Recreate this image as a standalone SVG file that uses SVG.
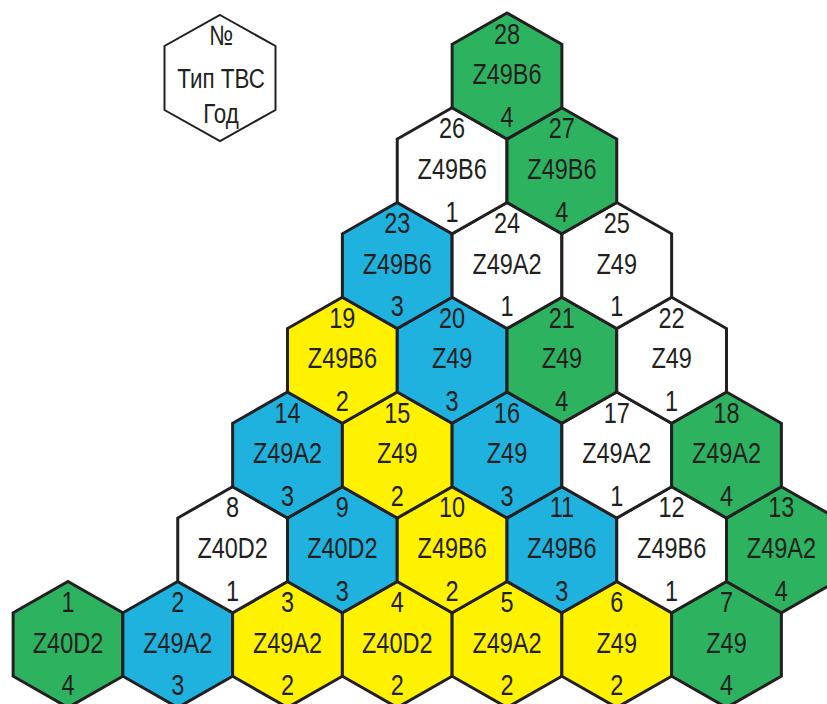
<svg xmlns="http://www.w3.org/2000/svg" xmlns:xlink="http://www.w3.org/1999/xlink" width="827" height="704" viewBox="0 0 827 704">
<style>
.hx{stroke:#231f20;stroke-width:3;stroke-linejoin:miter}
.w{fill:#ffffff}.g{fill:#2db360}.b{fill:#1fb2df}.y{fill:#fff200}
text{font-family:"Liberation Sans",Arial,sans-serif;font-size:29px;fill:#231f20;text-anchor:middle}
.lb{transform:scale(0.81,1)}
.lg{font-size:28px}
.lgs{transform:scale(0.8,1)}
</style>
<defs>
<polygon id="hx" points="0,-63 54.875,-31.75 54.875,31.75 0,63 -54.875,31.75 -54.875,-31.75"/>
</defs>
<rect width="827" height="704" fill="#ffffff"/>
<g id="legend">
<polygon points="220,15 275.5,46 275.5,110 220,141 164.5,110 164.5,46" fill="#ffffff" stroke="#231f20" stroke-width="2"/>
<g transform="translate(221,0)"><g class="lgs">
<text class="lg" y="45">№</text>
<text class="lg" y="88.3">Тип ТВС</text>
<text class="lg" y="123">Год</text>
</g></g>
</g>
<g id="hex1" transform="translate(68,644.5)"><use href="#hx" class="hx g"/><g class="lb"><text y="-32.5">1</text><text y="8">Z40D2</text><text y="51">4</text></g></g>
<g id="hex2" transform="translate(177.75,644.5)"><use href="#hx" class="hx b"/><g class="lb"><text y="-32.5">2</text><text y="8">Z49A2</text><text y="51">3</text></g></g>
<g id="hex3" transform="translate(287.5,644.5)"><use href="#hx" class="hx y"/><g class="lb"><text y="-32.5">3</text><text y="8">Z49A2</text><text y="51">2</text></g></g>
<g id="hex4" transform="translate(397.25,644.5)"><use href="#hx" class="hx y"/><g class="lb"><text y="-32.5">4</text><text y="8">Z40D2</text><text y="51">2</text></g></g>
<g id="hex5" transform="translate(507,644.5)"><use href="#hx" class="hx y"/><g class="lb"><text y="-32.5">5</text><text y="8">Z49A2</text><text y="51">2</text></g></g>
<g id="hex6" transform="translate(616.75,644.5)"><use href="#hx" class="hx y"/><g class="lb"><text y="-32.5">6</text><text y="8">Z49</text><text y="51">2</text></g></g>
<g id="hex7" transform="translate(726.5,644.5)"><use href="#hx" class="hx g"/><g class="lb"><text y="-32.5">7</text><text y="8">Z49</text><text y="51">4</text></g></g>
<g id="hex8" transform="translate(232.625,549.75)"><use href="#hx" class="hx w"/><g class="lb"><text y="-32.5">8</text><text y="8">Z40D2</text><text y="51">1</text></g></g>
<g id="hex9" transform="translate(342.375,549.75)"><use href="#hx" class="hx b"/><g class="lb"><text y="-32.5">9</text><text y="8">Z40D2</text><text y="51">3</text></g></g>
<g id="hex10" transform="translate(452.125,549.75)"><use href="#hx" class="hx y"/><g class="lb"><text y="-32.5">10</text><text y="8">Z49B6</text><text y="51">2</text></g></g>
<g id="hex11" transform="translate(561.875,549.75)"><use href="#hx" class="hx b"/><g class="lb"><text y="-32.5">11</text><text y="8">Z49B6</text><text y="51">3</text></g></g>
<g id="hex12" transform="translate(671.625,549.75)"><use href="#hx" class="hx w"/><g class="lb"><text y="-32.5">12</text><text y="8">Z49B6</text><text y="51">1</text></g></g>
<g id="hex13" transform="translate(781.375,549.75)"><use href="#hx" class="hx g"/><g class="lb"><text y="-32.5">13</text><text y="8">Z49A2</text><text y="51">4</text></g></g>
<g id="hex14" transform="translate(287.5,455)"><use href="#hx" class="hx b"/><g class="lb"><text y="-32.5">14</text><text y="8">Z49A2</text><text y="51">3</text></g></g>
<g id="hex15" transform="translate(397.25,455)"><use href="#hx" class="hx y"/><g class="lb"><text y="-32.5">15</text><text y="8">Z49</text><text y="51">2</text></g></g>
<g id="hex16" transform="translate(507,455)"><use href="#hx" class="hx b"/><g class="lb"><text y="-32.5">16</text><text y="8">Z49</text><text y="51">3</text></g></g>
<g id="hex17" transform="translate(616.75,455)"><use href="#hx" class="hx w"/><g class="lb"><text y="-32.5">17</text><text y="8">Z49A2</text><text y="51">1</text></g></g>
<g id="hex18" transform="translate(726.5,455)"><use href="#hx" class="hx g"/><g class="lb"><text y="-32.5">18</text><text y="8">Z49A2</text><text y="51">4</text></g></g>
<g id="hex19" transform="translate(342.375,360.25)"><use href="#hx" class="hx y"/><g class="lb"><text y="-32.5">19</text><text y="8">Z49B6</text><text y="51">2</text></g></g>
<g id="hex20" transform="translate(452.125,360.25)"><use href="#hx" class="hx b"/><g class="lb"><text y="-32.5">20</text><text y="8">Z49</text><text y="51">3</text></g></g>
<g id="hex21" transform="translate(561.875,360.25)"><use href="#hx" class="hx g"/><g class="lb"><text y="-32.5">21</text><text y="8">Z49</text><text y="51">4</text></g></g>
<g id="hex22" transform="translate(671.625,360.25)"><use href="#hx" class="hx w"/><g class="lb"><text y="-32.5">22</text><text y="8">Z49</text><text y="51">1</text></g></g>
<g id="hex23" transform="translate(397.25,265.5)"><use href="#hx" class="hx b"/><g class="lb"><text y="-32.5">23</text><text y="8">Z49B6</text><text y="51">3</text></g></g>
<g id="hex24" transform="translate(507,265.5)"><use href="#hx" class="hx w"/><g class="lb"><text y="-32.5">24</text><text y="8">Z49A2</text><text y="51">1</text></g></g>
<g id="hex25" transform="translate(616.75,265.5)"><use href="#hx" class="hx w"/><g class="lb"><text y="-32.5">25</text><text y="8">Z49</text><text y="51">1</text></g></g>
<g id="hex26" transform="translate(452.125,170.75)"><use href="#hx" class="hx w"/><g class="lb"><text y="-32.5">26</text><text y="8">Z49B6</text><text y="51">1</text></g></g>
<g id="hex27" transform="translate(561.875,170.75)"><use href="#hx" class="hx g"/><g class="lb"><text y="-32.5">27</text><text y="8">Z49B6</text><text y="51">4</text></g></g>
<g id="hex28" transform="translate(507,76)"><use href="#hx" class="hx g"/><g class="lb"><text y="-32.5">28</text><text y="8">Z49B6</text><text y="51">4</text></g></g>
<g id="connectors"></g>
</svg>
